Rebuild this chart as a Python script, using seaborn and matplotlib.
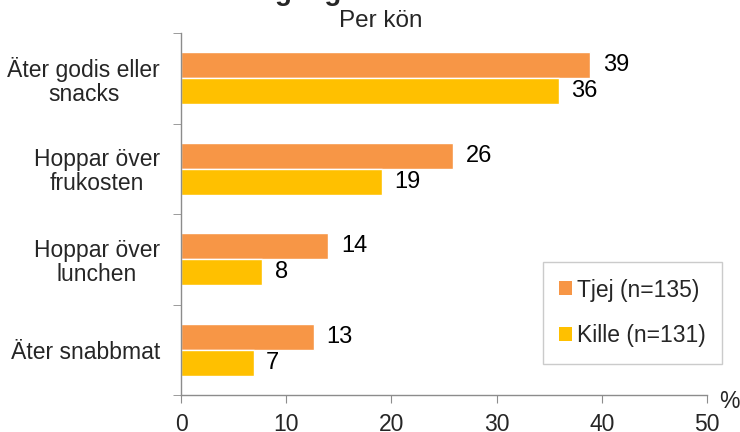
import matplotlib
matplotlib.use("Agg")
import matplotlib.pyplot as plt
import seaborn as sns
import pandas as pd
from matplotlib.patches import Patch

sns.set_style("white")
plt.rcParams['font.family'] = ['Liberation Sans', 'DejaVu Sans']

categories = ["Äter godis eller\nsnacks", "Hoppar över\nfrukosten",
              "Hoppar över\nlunchen", "Äter snabbmat"]
groups = ["Tjej (n=135)", "Kille (n=131)"]
tjej = [38.9, 25.9, 14.0, 12.6]
kille = [35.9, 19.1, 7.7, 6.9]
xticks = [0, 10, 20, 30, 40, 50]
colors = ["#F79646", "#FFC000"]

df = pd.DataFrame({
    "kategori": categories * 2,
    "grupp": [groups[0]] * len(categories) + [groups[1]] * len(categories),
    "andel": tjej + kille,
})

fig = plt.figure(figsize=(7.4, 4.32), dpi=100)
ax = fig.add_axes([0.2446, 0.0856, 0.7108, 0.838])

sns.barplot(data=df, y="kategori", x="andel", hue="grupp", order=categories,
            hue_order=groups, palette=colors, orient="h", width=0.57,
            saturation=1, legend=False, errorbar=None, ax=ax)

# value labels next to the bars
for cont in ax.containers:
    ax.bar_label(cont, labels=[f"{w:.0f}" for w in cont.datavalues],
                 padding=9, fontsize=17, color="#000000")

ax.set_xlim(0, 50)
ax.set_ylim(len(categories) - 0.5, -0.5)
ax.set_xticks(xticks)
ax.set_xticklabels([str(t) for t in xticks], fontsize=16.5)
ax.set_xlabel("")
ax.set_ylabel("")
ax.set_yticks(range(len(categories)))
ax.set_yticklabels(categories, fontsize=16.5, ha="right", multialignment="center",
                   linespacing=1.05)
ax.tick_params(axis="y", which="major", length=0, pad=15)
ax.set_yticks([i - 0.5 for i in range(len(categories) + 1)], minor=True)
ax.tick_params(axis="y", which="minor", length=6, color="#8c8c8c", direction="out", left=True)
ax.tick_params(axis="x", length=6, color="#8c8c8c", direction="out", bottom=True, pad=7)

for side in ["top", "right"]:
    ax.spines[side].set_visible(False)
for side in ["left", "bottom"]:
    ax.spines[side].set_color("#8c8c8c")
    ax.spines[side].set_linewidth(1)

fig.text(729 / 740, 1 - 401 / 432, "%", fontsize=16.5, ha="center", va="center")

handles = [Patch(facecolor=c, edgecolor="none", label=g) for c, g in zip(colors, groups)]
leg = ax.legend(handles=handles, loc="upper right",
                bbox_to_anchor=(722 / 740, 1 - 262 / 432), bbox_transform=fig.transFigure,
                fontsize=16.5, frameon=True, fancybox=False, borderpad=0.72,
                labelspacing=1.0, handlelength=0.55, handleheight=0.55,
                handletextpad=0.22, borderaxespad=0)
leg.get_frame().set_edgecolor("#bfbfbf")
leg.get_frame().set_linewidth(1)

fig.text(0.514, 1.0, "gånger i veckan", fontsize=20, fontweight="bold",
         ha="center", va="baseline")
fig.text(0.514, 0.951, "Per kön", fontsize=17.5, ha="center", va="center")

fig.savefig("out.png", dpi=100)
